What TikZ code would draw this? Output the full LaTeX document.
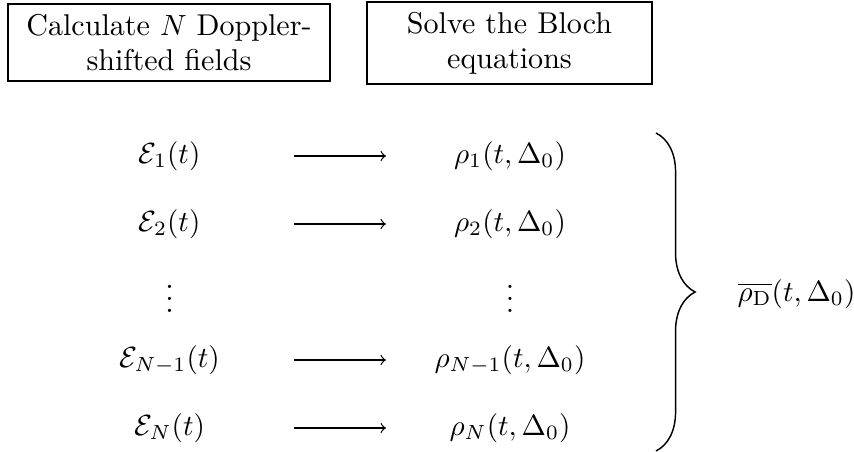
\documentclass[tikz,border=0pt]{standalone}
\usetikzlibrary{decorations.pathreplacing}
\begin{document}
\begin{tikzpicture}[x=0.3425pt,y=-0.3425pt,
  font=\fontsize{10.3}{12}\selectfont,
  box/.style={draw, line width=0.4pt, align=center, inner sep=0pt},
  rownode/.style={inner sep=0pt, minimum width=84.6pt, text height=8pt, text depth=3pt},
  dotsnode/.style={inner sep=0pt, anchor=base},
  conn/.style={->, line width=0.4pt},
  bracestyle/.style={decorate, decoration={brace, amplitude=13.4pt}, line width=0.5pt}]
\useasboundingbox (0,0) rectangle (854,452);

% header boxes
\node[box, minimum width=110.3pt, minimum height=26.4pt, text width=108pt] (calc) at (169,42.5)
  {Calculate $N$ Doppler-\\shifted fields};
\node[box, minimum width=97.6pt, minimum height=28.1pt, text width=95pt] (bloch) at (509.5,43)
  {Solve the Bloch\\equations};

% left column
\node[rownode] (e1) at (169.5,156) {$\mathcal{E}_1(t)$};
\node[rownode] (e2) at (169.5,224) {$\mathcal{E}_2(t)$};
\node[dotsnode] (ed) at (169.5,312) {$\vdots$};
\node[rownode] (enm) at (169.5,360) {$\mathcal{E}_{N-1}(t)$};
\node[rownode] (en) at (169.5,428) {$\mathcal{E}_N(t)$};

% right column
\node[rownode] (r1) at (510,156) {$\rho_1(t,\Delta_0)$};
\node[rownode] (r2) at (510,224) {$\rho_2(t,\Delta_0)$};
\node[dotsnode] (rd) at (510,312) {$\vdots$};
\node[rownode] (rnm) at (510,360) {$\rho_{N-1}(t,\Delta_0)$};
\node[rownode] (rn) at (510,428) {$\rho_N(t,\Delta_0)$};

% arrows
\draw[conn] (e1) -- (r1);
\draw[conn] (e2) -- (r2);
\draw[conn] (enm) -- (rnm);
\draw[conn] (en) -- (rn);

% brace
\coordinate (btop) at (656,133);
\coordinate (bbot) at (656,451);
\draw[bracestyle] (btop) -- (bbot);
\node[inner sep=0pt, anchor=west] (avg) at (737,294) {$\overline{\rho_{\mathrm{D}}}(t,\Delta_0)$};
\end{tikzpicture}
\end{document}
